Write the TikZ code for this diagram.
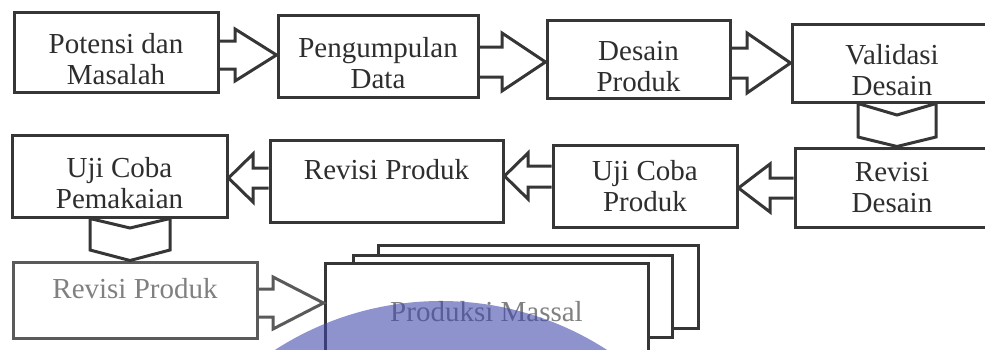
\documentclass[tikz,border=0pt]{standalone}
\usepackage{fontspec}
\setmainfont{Liberation Serif}
\definecolor{ink}{HTML}{363636}
\definecolor{txt}{HTML}{2E2E2E}
\definecolor{paleink}{HTML}{5A5A5A}
\definecolor{paletxt}{HTML}{808080}
\definecolor{wm}{RGB}{62,70,170}
\tikzset{
  box/.style={draw=ink, line width=3pt, inner sep=0pt, align=center, text=txt,
    font=\fontsize{29}{31}\selectfont},
  lowtext/.style={text height=65pt, text depth=0pt},
  palebox/.style={box, draw=paleink, text=paletxt},
  stackbox/.style={draw=ink, line width=3pt, fill=white, inner sep=0pt},
  conn/.style={draw=ink, line width=3pt, line join=miter},
  paleconn/.style={conn, draw=paleink},
  watermark/.style={fill=wm, fill opacity=0.58}
}
\begin{document}
\begin{tikzpicture}[x=1pt,y=-1pt]
\useasboundingbox (0,0) rectangle (985,349);
\clip (0,0) rectangle (985,349);
\fill[white] (0,0) rectangle (985,349);

% row 1
\node[box, lowtext, minimum width=204pt, minimum height=80pt] (b1) at (116,52) {Potensi dan\\Masalah};
\node[box, lowtext, minimum width=200pt, minimum height=82pt] (b2) at (378,56) {Pengumpulan\\Data};
\node[box, lowtext, minimum width=183pt, minimum height=78pt] (b3) at (638.5,59) {Desain\\Produk};
\node[box, lowtext, minimum width=200pt, minimum height=78pt] (b4) at (892,63) {Validasi\\Desain};
% row 2
\node[box, minimum width=194pt, minimum height=79pt] (b5) at (892,187.5) {Revisi\\Desain};
\node[box, minimum width=184pt, minimum height=82pt] (b6) at (645,186) {Uji Coba\\Produk};
\node[box, minimum width=233pt, minimum height=82pt, text depth=24pt] (b7) at (386.5,181) {Revisi Produk};
\node[box, lowtext, minimum width=215pt, minimum height=82pt] (b8) at (119.5,176) {Uji Coba\\Pemakaian};
% row 3
\node[palebox, minimum width=244pt, minimum height=76pt, text depth=24pt] (b9) at (135,300) {Revisi Produk};
\node[stackbox, minimum width=320pt, minimum height=83pt] (p3) at (538,286.5) {};
\node[stackbox, minimum width=319pt, minimum height=82pt] (p2) at (512.5,296) {};
\node[box, fill=white, text=paletxt, minimum width=323pt, minimum height=97pt] (b10) at (486.5,311.5) {Produksi Massal};

% block arrows, left to right
\draw[conn] (b1.east |- 0,41) -- (235,41) -- (235,29) -- (b2.west |- 0,55) -- (235,81) -- (235,69) -- (b1.east |- 0,69);
\draw[conn] (b2.east |- 0,47) -- (502,47) -- (502,33) -- (b3.west |- 0,62) -- (502,91) -- (502,77) -- (b2.east |- 0,77);
\draw[conn] (b3.east |- 0,48) -- (747,48) -- (747,33) -- (b4.west |- 0,63) -- (747,93) -- (747,78) -- (b3.east |- 0,78);
% chevron down
\draw[conn] (858,0 |- b4.south) -- (897,115) -- (936,0 |- b4.south) -- (936,137) -- (897,0 |- b5.north) -- (858,137) -- cycle;
% block arrows, right to left
\draw[conn] (b5.west |- 0,178) -- (770,178) -- (770,164) -- (b6.east |- 0,188) -- (770,212) -- (770,198) -- (b5.west |- 0,198);
\draw[conn] (b6.west |- 0,166) -- (528,166) -- (528,153) -- (b7.east |- 0,176) -- (528,199) -- (528,187) -- (b6.west |- 0,187);
\draw[conn] (b7.west |- 0,168) -- (253,168) -- (253,154) -- (b8.east |- 0,178) -- (253,202) -- (253,188) -- (b7.west |- 0,188);
% chevron down
\draw[conn] (90,0 |- b8.south) -- (130,228) -- (170,0 |- b8.south) -- (170,250) -- (130,0 |- b9.north) -- (90,250) -- cycle;
% last arrow
\draw[paleconn] (b9.east |- 0,289) -- (273,289) -- (273,277) -- (b10.west |- 0,303) -- (273,329) -- (273,317) -- (b9.east |- 0,317);

% scanned watermark
\fill[watermark] (441,607) circle[radius=306pt];
\end{tikzpicture}
\end{document}
